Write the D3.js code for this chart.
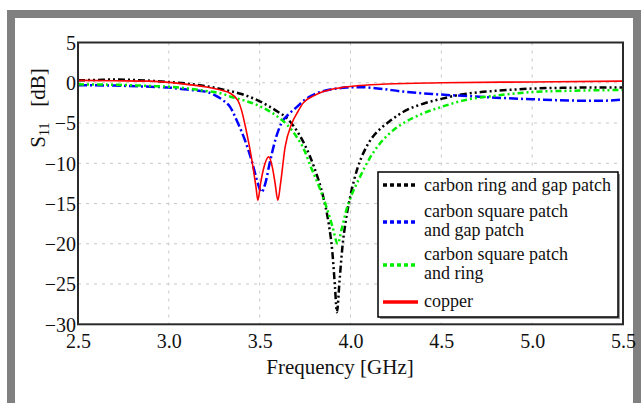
<!DOCTYPE html>
<html>
<head>
<meta charset="utf-8">
<script src="https://cdn.jsdelivr.net/npm/d3@7"></script>
<style>
  html, body { margin: 0; padding: 0; background: #fff; }
  svg { display: block; }
  svg text { font-family: "Liberation Serif", "Times New Roman", serif; }
</style>
</head>
<body>
<svg id="chart" width="643" height="403"></svg>
<script>
/* S11 vs frequency for four antenna variants */

// carbon ring and gap patch
const ringGapFreq = [2.5, 2.6, 2.7, 2.8, 2.9, 3.0, 3.1, 3.2, 3.3, 3.4, 3.5, 3.6, 3.65, 3.7, 3.75, 3.8, 3.85, 3.88, 3.9, 3.915, 3.925,
  3.94, 3.955, 3.975, 4.0, 4.04, 4.08, 4.12, 4.17, 4.22, 4.3, 4.4, 4.5, 4.6, 4.7, 4.8, 4.9, 5.0, 5.2, 5.4, 5.5];
const ringGapS11 = [0.3, 0.35, 0.4, 0.35, 0.25, 0.1, -0.1, -0.4, -0.85, -1.4, -2.3, -3.6, -4.4, -5.8, -7.8, -10.5, -14.2, -17.5, -21, -25.5, -28.5,
  -24.5, -20.5, -17, -14, -10.5, -8.3, -6.8, -5.6, -4.7, -3.5, -2.6, -2.0, -1.5, -1.2, -1.0, -0.85, -0.72, -0.62, -0.58, -0.58];

// carbon square patch and gap patch
const squareGapFreq = [2.5, 2.7, 2.9, 3.0, 3.1, 3.2, 3.25, 3.3, 3.337, 3.38, 3.42, 3.46, 3.49, 3.51, 3.53, 3.555, 3.59, 3.62, 3.66, 3.705,
  3.75, 3.815, 3.9, 3.98, 4.05, 4.15, 4.29, 4.45, 4.64, 4.8, 5.0, 5.2, 5.35, 5.5];
const squareGapS11 = [-0.3, -0.35, -0.5, -0.6, -0.85, -1.1, -1.5, -2.2, -3.0, -5.0, -7.2, -10, -12.5, -13.6, -12.6, -10, -6.8, -5.0, -3.9, -3.0,
  -2.1, -1.3, -0.8, -0.6, -0.55, -0.7, -1.1, -1.4, -1.65, -1.85, -2.05, -2.2, -2.25, -2.1];

// carbon square patch and ring
const squareRingFreq = [2.5, 2.7, 2.9, 3.0, 3.1, 3.2, 3.3, 3.337, 3.4, 3.5, 3.61, 3.65, 3.7, 3.75, 3.777, 3.82, 3.87, 3.9, 3.93,
  3.95, 3.975, 4.0, 4.05, 4.1, 4.16, 4.22, 4.3, 4.4, 4.5, 4.64, 4.8, 5.0, 5.2, 5.5];
const squareRingS11 = [-0.2, -0.25, -0.4, -0.5, -0.7, -1.0, -1.4, -1.7, -2.1, -2.9, -4.4, -5.2, -6.6, -8.6, -10.2, -12.5, -15.6, -17.8, -20,
  -18.3, -16, -14.3, -11.8, -9.6, -7.6, -6.2, -4.9, -3.8, -3.0, -2.1, -1.6, -1.15, -1.0, -0.9];

// copper
const copperFreq = [2.5, 2.7, 2.9, 3.0, 3.1, 3.2, 3.3, 3.337, 3.38, 3.4, 3.42, 3.44, 3.46, 3.48, 3.49, 3.505, 3.52, 3.55, 3.57, 3.585,
  3.6, 3.615, 3.64, 3.678, 3.71, 3.74, 3.8, 3.85, 3.95, 4.05, 4.2, 4.5, 5.0, 5.5];
const copperS11 = [0.3, 0.25, 0.2, 0.05, -0.2, -0.5, -1.0, -1.3, -2.2, -3.4, -5.3, -7.5, -10, -13, -14.6, -12.5, -10.8, -9.2, -10.5, -12.5,
  -14.6, -12.5, -8.0, -5.0, -3.6, -2.5, -1.6, -1.1, -0.6, -0.35, -0.15, 0.0, 0.1, 0.2];

const xTicks = [2.5, 3.0, 3.5, 4.0, 4.5, 5.0, 5.5];
const yTicks = [5, 0, -5, -10, -15, -20, -25, -30];

const series = [
  { name: ['carbon ring and gap patch'], freq: ringGapFreq, s11: ringGapS11, color: '#000', dash: '7,3,2,3,2,3', width: 2.5 },
  { name: ['carbon square patch', 'and gap patch'], freq: squareGapFreq, s11: squareGapS11, color: '#0000ff', dash: '9,3,2,3', width: 2.5 },
  { name: ['carbon square patch', 'and ring'], freq: squareRingFreq, s11: squareRingS11, color: '#00ee00', dash: '6,3,2,3,2,3', width: 2.5 },
  { name: ['copper'], freq: copperFreq, s11: copperS11, color: '#ff0000', dash: null, width: 1.6 },
];

const svg = d3.select('#chart');
const W = 643, H = 403;
const m = { left: 78, right: 623, top: 42.5, bottom: 324.3 };

// outer gray frame
svg.append('rect').attr('width', W).attr('height', H).attr('fill', '#fff');
svg.append('rect')
  .attr('x', 11).attr('y', 14).attr('width', 626).attr('height', 394)
  .attr('fill', 'none').attr('stroke', '#808080').attr('stroke-width', 8);

const x = d3.scaleLinear().domain([2.5, 5.5]).range([m.left, m.right]);
const y = d3.scaleLinear().domain([-30, 5]).range([m.bottom, m.top]);

// grid
const grid = svg.append('g').attr('stroke', '#c8c8c8').attr('stroke-width', 1).attr('stroke-dasharray', '3,5');
grid.selectAll('line.v').data(xTicks.slice(1, -1)).enter().append('line')
  .attr('x1', d => x(d)).attr('x2', d => x(d)).attr('y1', m.top).attr('y2', m.bottom);
grid.selectAll('line.h').data(yTicks.slice(1, -1)).enter().append('line')
  .attr('y1', d => y(d)).attr('y2', d => y(d)).attr('x1', m.left).attr('x2', m.right);

// axes (labels only)
const xAxis = svg.append('g').attr('transform', `translate(0,${m.bottom})`)
  .call(d3.axisBottom(x).tickValues(xTicks).tickFormat(d3.format('.1f')).tickSize(0));
const yAxis = svg.append('g').attr('transform', `translate(${m.left},0)`)
  .call(d3.axisLeft(y).tickValues(yTicks).tickSize(0).tickPadding(2));
[xAxis, yAxis].forEach(a => {
  a.attr('font-family', null).attr('font-size', null);
  a.select('.domain').remove();
  a.selectAll('text').style('font-size', '20px').attr('fill', '#111');
});
xAxis.selectAll('text').attr('y', 24).attr('dy', 0);
yAxis.selectAll('text').attr('dy', '0.34em');

// curves
const line = d3.line().x(d => x(d[0])).y(d => y(d[1])).curve(d3.curveMonotoneX);
svg.append('defs').append('clipPath').attr('id', 'plot-clip')
  .append('rect').attr('x', m.left).attr('y', m.top).attr('width', m.right - m.left).attr('height', m.bottom - m.top);
const curves = svg.append('g').attr('clip-path', 'url(#plot-clip)');
series.forEach(s => {
  curves.append('path')
    .datum(s.freq.map((f, i) => [f, s.s11[i]]))
    .attr('d', line)
    .attr('fill', 'none')
    .attr('stroke', s.color)
    .attr('stroke-width', s.width)
    .attr('stroke-dasharray', s.dash)
    .attr('stroke-linejoin', 'round');
});

// plot frame
svg.append('rect')
  .attr('x', m.left).attr('y', m.top).attr('width', m.right - m.left).attr('height', m.bottom - m.top)
  .attr('fill', 'none').attr('stroke', '#2a2a2a').attr('stroke-width', 2);

// axis titles
svg.append('text')
  .attr('x', 340).attr('y', 374).attr('text-anchor', 'middle')
  .style('font-size', '21px').attr('fill', '#111')
  .text('Frequency [GHz]');
const yt = svg.append('text')
  .attr('transform', 'translate(45,108) rotate(-90)').attr('text-anchor', 'middle')
  .style('font-size', '21px').attr('fill', '#111');
yt.append('tspan').text('S');
yt.append('tspan').style('font-size', '14px').attr('dy', 4).text('11');
yt.append('tspan').attr('dy', -4).text('\u2002 [dB]');

// legend
const lg = svg.append('g');
lg.append('rect').attr('x', 380).attr('y', 174).attr('width', 240).attr('height', 145).attr('fill', '#999');
lg.append('rect').attr('x', 378).attr('y', 172).attr('width', 240).attr('height', 145)
  .attr('fill', '#fff').attr('stroke', '#000').attr('stroke-width', 1.5);
const sampleY = [185, 222, 265, 302];
const textY = [[191], [216.5, 235.5], [259.5, 278.5], [306.5]];
series.forEach((s, i) => {
  lg.append('line')
    .attr('x1', 383).attr('x2', 418).attr('y1', sampleY[i]).attr('y2', sampleY[i])
    .attr('stroke', s.color).attr('stroke-width', 3.5)
    .attr('stroke-dasharray', s.dash ? '4,3' : null);
  s.name.forEach((t, j) => {
    lg.append('text').attr('x', 424).attr('y', textY[i][j])
      .style('font-size', '18px').attr('fill', '#111').text(t);
  });
});
</script>
</body>
</html>
